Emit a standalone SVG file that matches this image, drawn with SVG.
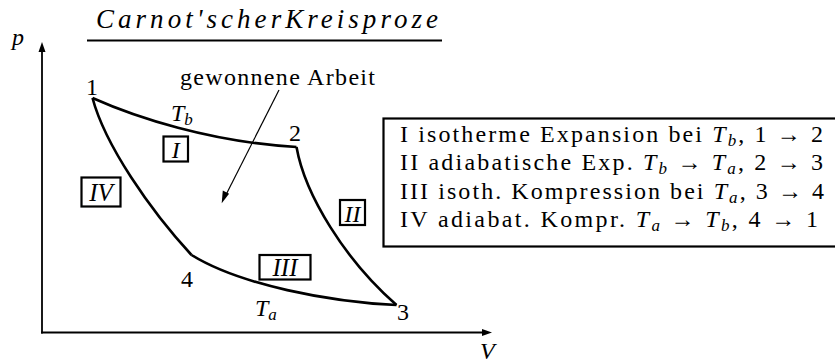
<svg xmlns="http://www.w3.org/2000/svg" width="835" height="364" viewBox="0 0 835 364" font-family="Liberation Serif">
<g id="title">
<text font-family="Liberation Serif" font-style="italic" font-size="27" x="96" y="28" textLength="342" lengthAdjust="spacing">Carnot'scherKreisproze</text>
<line x1="87" y1="40.5" x2="442" y2="40.5" stroke="#000" stroke-width="2.2"/>
</g>

<g id="axes">
<line x1="42" y1="333.5" x2="42" y2="50" stroke="#000" stroke-width="1.8"/>
<polygon points="42,42 38.5,52 45.5,52" fill="#000"/>
<line x1="41" y1="332.5" x2="484" y2="332.5" stroke="#000" stroke-width="1.8"/>
<polygon points="492,332.5 482,329 482,336" fill="#000"/>
<text font-family="Liberation Serif" font-style="italic" font-size="24" x="12" y="45">p</text>
<text font-family="Liberation Serif" font-style="italic" font-size="24" x="480" y="359">V</text>
</g>

<g id="connectors" fill="none" stroke="#000">
<path id="c12" stroke-width="2.6" d="M92.5,98 C135,117 210,142 296.5,147"/>
<path id="c23" stroke-width="2.6" d="M296.5,147 C305,195 345,260 396.5,305"/>
<path id="c34" stroke-width="2.6" d="M396.5,305 C330,302 240,285 191.5,255"/>
<path id="c41" stroke-width="2.6" d="M191.5,255 C150,210 105,145 92.5,98"/>
<line id="arrow" stroke-width="1.2" x1="279" y1="90" x2="226" y2="194.8"/>
<polygon fill="#000" stroke="none" points="221.7,203.3 222.8,190.6 229.1,193.8"/>
</g>

<g id="p1"><text font-family="Liberation Serif" font-size="24" x="86" y="95">1</text></g>
<g id="p2"><text font-family="Liberation Serif" font-size="24" x="289" y="141">2</text></g>
<g id="p3"><text font-family="Liberation Serif" font-size="24" x="397" y="320">3</text></g>
<g id="p4"><text font-family="Liberation Serif" font-size="24" x="181" y="287">4</text></g>

<g id="Tb"><text font-family="Liberation Serif" font-style="italic" font-size="24" x="171" y="121">T<tspan font-size="17" dy="4">b</tspan></text></g>
<g id="Ta"><text font-family="Liberation Serif" font-style="italic" font-size="24" x="255" y="316">T<tspan font-size="17" dy="4">a</tspan></text></g>

<g id="work"><text font-family="Liberation Serif" font-size="24" x="180" y="85" textLength="195" lengthAdjust="spacing">gewonnene Arbeit</text></g>

<g id="labelI">
<rect x="163.5" y="136.5" width="24.5" height="25" fill="#fff" stroke="#000" stroke-width="2.2"/>
<text font-family="Liberation Serif" font-style="italic" font-size="24" x="175.75" y="158" text-anchor="middle">I</text>
</g>
<g id="labelII">
<rect x="340" y="200" width="25" height="25" fill="#fff" stroke="#000" stroke-width="2.2"/>
<text font-family="Liberation Serif" font-style="italic" font-size="24" x="352.5" y="221.5" text-anchor="middle">II</text>
</g>
<g id="labelIII">
<rect x="259.5" y="255" width="51" height="24.5" fill="#fff" stroke="#000" stroke-width="2.2"/>
<text font-family="Liberation Serif" font-style="italic" font-size="25" x="285" y="276" text-anchor="middle">III</text>
</g>
<g id="labelIV">
<rect x="81.5" y="177.5" width="39" height="29" fill="#fff" stroke="#000" stroke-width="2.2"/>
<text font-family="Liberation Serif" font-style="italic" font-size="25" x="101" y="200.5" text-anchor="middle">IV</text>
</g>

<g id="legend">
<rect x="383.5" y="118.5" width="460" height="128" fill="#fff" stroke="#000" stroke-width="2.2"/>
<text font-family="Liberation Serif" font-size="24" x="400" y="141.5" textLength="423" lengthAdjust="spacing">I isotherme Expansion bei <tspan font-style="italic">T</tspan><tspan font-style="italic" font-size="17" dy="4">b</tspan><tspan dy="-4">,  1 → 2</tspan></text>
<text font-family="Liberation Serif" font-size="24" x="400" y="170" textLength="423" lengthAdjust="spacing">II adiabatische Exp. <tspan font-style="italic">T</tspan><tspan font-style="italic" font-size="17" dy="4">b</tspan><tspan dy="-4"> → </tspan><tspan font-style="italic">T</tspan><tspan font-style="italic" font-size="17" dy="4">a</tspan><tspan dy="-4">,  2 → 3</tspan></text>
<text font-family="Liberation Serif" font-size="24" x="400" y="198.5" textLength="424" lengthAdjust="spacing">III isoth. Kompression bei <tspan font-style="italic">T</tspan><tspan font-style="italic" font-size="17" dy="4">a</tspan><tspan dy="-4">,  3 → 4</tspan></text>
<text font-family="Liberation Serif" font-size="24" x="400" y="227" textLength="418" lengthAdjust="spacing">IV adiabat. Kompr. <tspan font-style="italic">T</tspan><tspan font-style="italic" font-size="17" dy="4">a</tspan><tspan dy="-4"> → </tspan><tspan font-style="italic">T</tspan><tspan font-style="italic" font-size="17" dy="4">b</tspan><tspan dy="-4">,  4 → 1</tspan></text>
</g>
</svg>
